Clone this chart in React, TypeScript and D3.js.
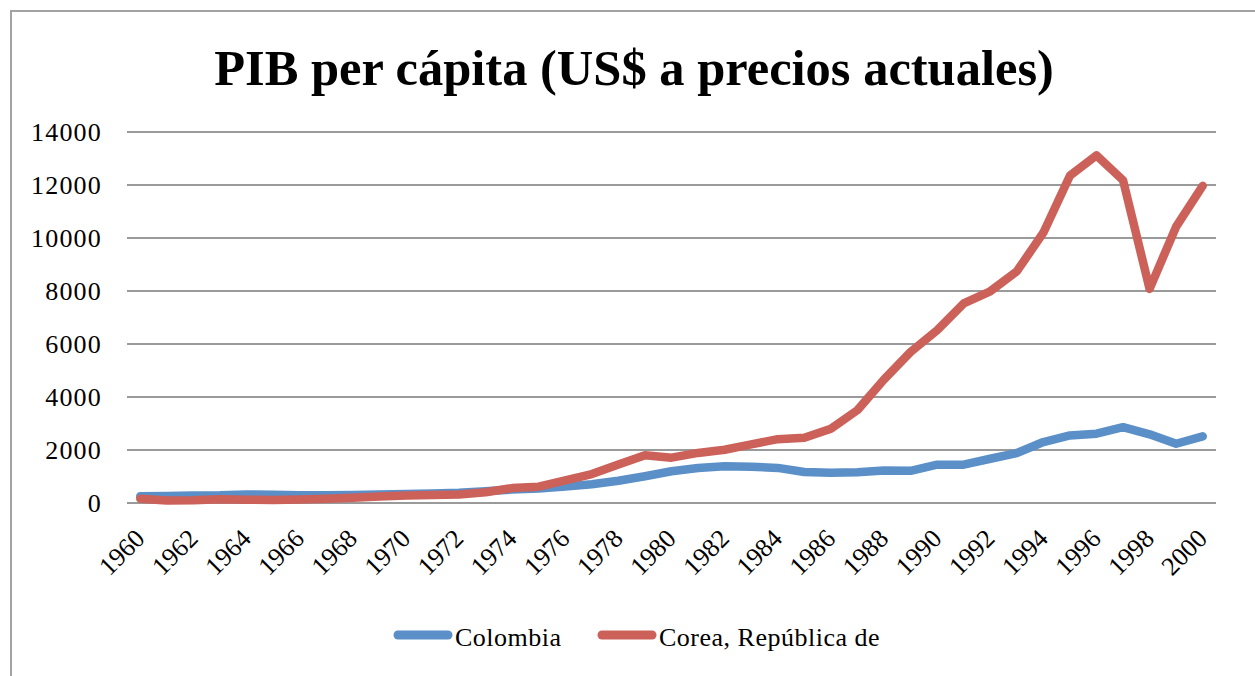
import React from "react";
import * as d3 from "d3";

const years: string[] = [
  "1960","1961","1962","1963","1964","1965","1966","1967","1968","1969",
  "1970","1971","1972","1973","1974","1975","1976","1977","1978","1979",
  "1980","1981","1982","1983","1984","1985","1986","1987","1988","1989",
  "1990","1991","1992","1993","1994","1995","1996","1997","1998","1999","2000",
];

const colombia: number[] = [
  254, 268, 282, 290, 325, 312, 292, 290, 298, 318,
  340, 362, 388, 440, 510, 545, 625, 710, 840, 1010,
  1200, 1320, 1385, 1365, 1325, 1170, 1140, 1160, 1230, 1215,
  1445, 1445, 1670, 1885, 2300, 2550, 2615, 2860, 2590, 2235, 2515,
];

const corea: number[] = [
  158, 94, 106, 146, 124, 109, 133, 161, 198, 243,
  279, 301, 323, 406, 563, 615, 850, 1090, 1450, 1800,
  1710, 1890, 2010, 2210, 2410, 2460, 2805, 3505, 4660, 5700,
  6520, 7530, 7990, 8740, 10200, 12350, 13120, 12180, 8080, 10430, 11970,
];

const yTicks: number[] = [0, 2000, 4000, 6000, 8000, 10000, 12000, 14000];
const xTickLabels: string[] = years.filter((_, i) => i % 2 === 0);

const seriesNames: string[] = ["Colombia", "Corea, República de"];
const seriesColors: string[] = ["#5b8fc7", "#cb6159"];
const title = "PIB per cápita (US$ a precios actuales)";

const W = 1255;
const H = 676;
const FONT = "'Liberation Serif', 'Times New Roman', serif";

export default function App() {
  const x = d3.scalePoint<string>().domain(years).range([127, 1216]).padding(0.5);
  const y = d3.scaleLinear().domain([0, 14000]).range([503, 132]);

  const line = d3
    .line<number>()
    .x((_, i) => x(years[i]) as number)
    .y((d) => y(d));

  const series = [colombia, corea];

  return (
    <svg
      width={W}
      height={H}
      style={{ position: "absolute", left: 0, top: 0, background: "#fff" }}
      fontFamily={FONT}
    >
      <rect x={0} y={0} width={W} height={H} fill="#fff" />
      <rect x={11} y={11} width={1270} height={700} fill="none" stroke="#a3a3a3" strokeWidth={2} />

      <text x={634} y={85} textAnchor="middle" fontSize={50.5} fontWeight="bold" fill="#000">
        {title}
      </text>

      {yTicks.map((t) => (
        <g key={t}>
          <line x1={127} x2={1216} y1={y(t)} y2={y(t)} stroke="#9a9a9a" strokeWidth={2} />
          <text x={102} y={y(t) + 9} textAnchor="end" fontSize={26} letterSpacing={1.2} fill="#000">
            {t}
          </text>
        </g>
      ))}

      {xTickLabels.map((lab) => {
        const px = (x(lab) as number) + 6;
        const py = 540;
        return (
          <text
            key={lab}
            x={px}
            y={py}
            textAnchor="end"
            fontSize={26}
            fill="#000"
            transform={`rotate(-45 ${px} ${py})`}
          >
            {lab}
          </text>
        );
      })}

      {series.map((s, k) => (
        <path
          key={k}
          d={line(s) || ""}
          fill="none"
          stroke={seriesColors[k]}
          strokeWidth={8.5}
          strokeLinejoin="round"
          strokeLinecap="round"
        />
      ))}

      {/* legend */}
      <g>
        <line x1={398} x2={448} y1={635} y2={635} stroke={seriesColors[0]} strokeWidth={9} strokeLinecap="round" />
        <text x={455} y={646} fontSize={26} letterSpacing={0.5} fill="#000">{seriesNames[0]}</text>
        <line x1={602} x2={652} y1={635} y2={635} stroke={seriesColors[1]} strokeWidth={9} strokeLinecap="round" />
        <text x={659} y={646} fontSize={26} letterSpacing={0.5} fill="#000">{seriesNames[1]}</text>
      </g>
    </svg>
  );
}
